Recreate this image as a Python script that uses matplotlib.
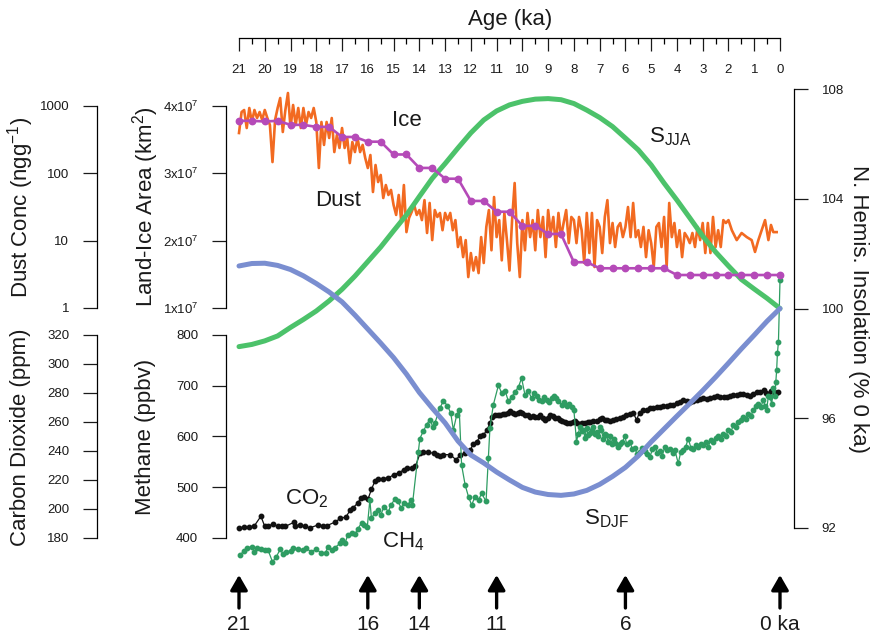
import numpy as np
import matplotlib
matplotlib.use('Agg')
import matplotlib.pyplot as plt
from matplotlib import rcParams, transforms
from matplotlib.ticker import NullLocator, FixedLocator

rcParams['font.family'] = 'sans-serif'
rcParams['font.sans-serif'] = ['Liberation Sans', 'DejaVu Sans']
rcParams['mathtext.fontset'] = 'custom'
rcParams['mathtext.rm'] = 'Liberation Sans'
rcParams['mathtext.it'] = 'Liberation Sans:italic'
rcParams['mathtext.bf'] = 'Liberation Sans:bold'
rcParams['axes.linewidth'] = 0.9
rcParams['text.color'] = '#1a1a1a'

# ---- data ----
# insolation, % of 0 ka, at 0.5 ka steps
ins_age = [21, 20.5, 20, 19.5, 19, 18.5, 18, 17.5, 17, 16.5, 16, 15.5, 15, 14.5, 14, 13.5,
           13, 12.5, 12, 11.5, 11, 10.5, 10, 9.5, 9, 8.5, 8, 7.5, 7, 6.5, 6, 5.5, 5, 4.5,
           4, 3.5, 3, 2.5, 2, 1.5, 1, 0.5, 0]
s_jja = [98.61, 98.69, 98.82, 99.00, 99.31, 99.60, 99.91, 100.28, 100.70, 101.18, 101.71,
         102.24, 102.83, 103.41, 104.08, 104.74, 105.28, 105.85, 106.40, 106.87, 107.20,
         107.42, 107.55, 107.63, 107.65, 107.61, 107.47, 107.23, 106.96, 106.63, 106.21,
         105.78, 105.23, 104.57, 103.95, 103.30, 102.64, 102.06, 101.55, 101.06, 100.71,
         100.37, 100.0]
s_djf = [101.55, 101.64, 101.65, 101.57, 101.42, 101.19, 100.91, 100.60, 100.24, 99.76, 99.25,
         98.74, 98.21, 97.61, 96.94, 96.37, 95.83, 95.17, 94.66, 94.37, 94.04, 93.75, 93.48,
         93.31, 93.22, 93.19, 93.24, 93.37, 93.59, 93.88, 94.21, 94.63, 95.14, 95.61, 96.08,
         96.54, 97.01, 97.50, 98.01, 98.53, 99.03, 99.54, 100.0]

# land-ice area (x 10^7 km2), 0.5 ka steps
ice_age = ins_age
ice_area = [3.78, 3.78, 3.77, 3.78, 3.72, 3.72, 3.69, 3.69, 3.54, 3.54, 3.47, 3.47, 3.28, 3.28,
            3.08, 3.08, 2.92, 2.92, 2.59, 2.59, 2.43, 2.43, 2.22, 2.22, 2.10, 2.10, 1.68, 1.68,
            1.59, 1.59, 1.59, 1.59, 1.59, 1.59, 1.49, 1.49, 1.49, 1.49, 1.49, 1.49, 1.49, 1.49, 1.49]

# dust concentration (ng/g), 0.1 ka steps from 21.0 to 2.0, then irregular tail
dust_main = [
    397, 814, 872, 471, 934, 579, 872, 663, 814, 620,
    872, 663, 522, 147, 620, 934, 1315, 411, 872, 1560,
    471, 1035, 522, 934, 471, 934, 522, 814, 663, 934,
    579, 120, 579, 264, 579, 335, 663, 207, 371, 238,
    471, 238, 335, 142, 292, 207, 335, 207, 264, 169,
    120, 187, 52.8, 133, 74.3, 94.5, 43, 67, 47.7, 56.7,
    33.9, 24.1, 47.7, 18.9, 67, 13.4, 21.7, 26.6, 33.9, 24.1,
    28.5, 20.2, 40, 13.0, 36.3, 10.2, 28.5, 22.5, 25.8, 14.3,
    25.8, 20.2, 25.8, 14.3, 20.2, 8.05, 11.3, 5.7, 10.2, 2.88,
    6.55, 3.6, 5.7, 3.3, 11.3, 4.66, 16.0, 28.5, 7.2, 44.5,
    11.3, 20.2, 5.1, 25.8, 10.2, 3.6, 20.2, 71.8, 9.2, 2.88,
    20.2, 7.2, 25.8, 11.3, 20.2, 7.2, 28.5, 11.3, 22.5, 5.7,
    28.5, 13.0, 22.5, 8.05, 25.8, 11.3, 18.3, 28.5, 9.2, 22.5,
    20.2, 9.2, 22.5, 14.3, 4.66, 25.8, 6.55, 25.8, 4.06, 20.2,
    16.0, 6.55, 22.5, 40, 9.2, 18.3, 8.05, 16.0, 18.3, 11.3,
    16.0, 31.6, 11.3, 36.3, 11.3, 14.3, 8.05, 16.0, 5.7, 14.3,
    9.2, 4.06, 16.0, 18.3, 8.05, 22.5, 4.06, 36.3, 11.3, 18.3,
    8.05, 14.3, 5.7, 13.0, 11.3, 9.2, 13.0, 8.05, 16.0, 10.2,
    18.3, 6.55, 18.3, 6.55, 22.5, 8.05, 14.3, 8.05, 20.2, 18.3,
    20.2]
dust_age_tail = [1.87, 1.68, 1.49, 1.29, 1.10, 0.97, 0.84, 0.71, 0.58, 0.45, 0.35, 0.26, 0.13]
dust_tail = [14.3, 10.2, 13.0, 11.3, 10.2, 6.8, 10.2, 14.3, 20.2, 10.2, 17.1, 13.4, 13.4]

# carbon dioxide (ppm)
co2_age = [21.0, 20.8, 20.6, 20.4, 20.15, 20.0, 19.87, 19.67, 19.5, 19.35, 19.2, 18.85, 18.83,
           18.64, 18.45, 18.25, 17.93, 17.75, 17.59, 17.27, 17.07, 16.85, 16.69, 16.56, 16.4,
           16.27, 16.14, 15.99, 15.86, 15.73, 15.6, 15.4, 15.2, 15.0, 14.8, 14.6, 14.47, 14.28,
           14.15, 13.97, 13.84, 13.65, 13.45, 13.33, 13.2, 13.07, 12.8, 12.58, 12.42, 12.22,
           12.03, 11.9, 11.77, 11.64, 11.51, 11.38, 11.26, 11.19, 11.06, 10.95, 10.87, 10.75,
           10.67, 10.55, 10.48, 10.38, 10.28, 10.18, 10.09, 10.0, 9.9, 9.8, 9.7, 9.6, 9.5, 9.4,
           9.3, 9.2, 9.12, 9.02, 8.93, 8.83, 8.73, 8.63, 8.54, 8.45, 8.35, 8.25, 8.15, 8.05,
           7.96, 7.87, 7.77, 7.67, 7.57, 7.47, 7.38, 7.25, 7.12, 7.0, 6.9, 6.8, 6.73, 6.6,
           6.47, 6.35, 6.21, 6.08, 5.96, 5.83, 5.7, 5.57, 5.45, 5.31, 5.18, 5.05, 4.92, 4.79,
           4.66, 4.53, 4.4, 4.27, 4.14, 4.01, 3.88, 3.75, 3.62, 3.49, 3.36, 3.23, 3.1, 2.97,
           2.84, 2.71, 2.58, 2.45, 2.32, 2.19, 2.06, 1.94, 1.81, 1.68, 1.55, 1.42, 1.29, 1.16,
           1.03, 0.9, 0.77, 0.64, 0.55, 0.45, 0.35, 0.25, 0.15, 0.06]
co2_ppm = [187, 187.5, 187.5, 188.5, 195, 188, 188.5, 189.5, 188, 188, 188, 191, 188.5,
           189, 188, 187, 189, 188.5, 188.5, 191, 193.5, 194.5, 199, 201, 204,
           207.5, 208, 207, 213.5, 219, 220.5, 221, 221.5, 223.5, 225, 227, 228, 228,
           229.5, 238.5, 239, 239, 238.5, 237, 236.5, 237.5, 237.5, 234, 237, 238.5,
           240.5, 245, 246.5, 250, 251, 254.5, 259, 263.5, 265, 264.5, 265, 265.5,
           265.5, 266, 267.5, 266.5, 265.5, 266.5, 267, 266, 265, 264.5, 263.5, 264, 263.5, 263.5,
           264.5, 263, 261.5, 263, 265, 264, 263, 262.5, 261.5, 261, 260, 259.5, 259, 260,
           261, 259.5, 258.5, 259.5, 259.5, 260, 260, 260.5, 260.5, 262, 263, 261.5, 261.5, 261,
           261.5, 262, 262.5, 263.5, 265, 265.5, 266.5, 261.5, 266.5, 268, 268.5, 269.5, 269.5, 270,
           270.5, 271, 271, 271.5, 272, 273, 274, 275, 274.5, 274, 274.5, 275, 276, 276.5,
           276, 276.5, 277.5, 278, 277.5, 277, 277.5, 278, 278.5, 278.5, 279, 279.5, 278.5, 278,
           279.5, 281, 280.5, 282, 280, 279, 281.5, 281, 280, 280.5]

# methane (ppbv)
ch4_age = [20.95, 20.8, 20.7, 20.5, 20.4, 20.3, 20.15, 20.0, 19.87, 19.7, 19.55, 19.4, 19.3,
           19.17, 19.0, 18.9, 18.7, 18.5, 18.4, 18.2, 18.0, 17.8, 17.64, 17.54, 17.4, 17.27,
           17.07, 17.0, 16.88, 16.78, 16.62, 16.49, 16.4, 16.24, 16.14, 16.02, 15.92, 15.86,
           15.73, 15.6, 15.5, 15.37, 15.2, 15.1, 14.96, 14.83, 14.7, 14.6, 14.45, 14.32, 14.27,
           14.04, 13.98, 13.85, 13.72, 13.6, 13.46, 13.4, 13.2, 13.07, 12.91, 12.78, 12.68,
           12.55, 12.45, 12.36, 12.22, 12.09, 11.97, 11.84, 11.7, 11.58, 11.41, 11.32, 11.26,
           11.13, 10.93, 10.8, 10.67, 10.54, 10.42, 10.28, 10.15, 10.03, 9.9, 9.77, 9.64, 9.55,
           9.45, 9.35, 9.25, 9.15, 9.06, 8.96, 8.86, 8.78, 8.7, 8.6, 8.48, 8.38, 8.28, 8.18,
           8.09, 8.0, 7.9, 7.83, 7.77, 7.7, 7.64, 7.57, 7.51, 7.45, 7.38, 7.3, 7.25, 7.18, 7.12,
           7.05, 6.99, 6.93, 6.86, 6.8, 6.74, 6.67, 6.6, 6.52, 6.45, 6.4, 6.3, 6.21, 6.12, 6.02,
           5.95, 5.83, 5.73, 5.63, 5.55, 5.44, 5.35, 5.25, 5.15, 5.05, 4.95, 4.86, 4.76, 4.66,
           4.57, 4.47, 4.37, 4.27, 4.17, 4.08, 3.95, 3.85, 3.75, 3.66, 3.56, 3.46, 3.36, 3.26,
           3.17, 3.07, 2.98, 2.88, 2.78, 2.69, 2.59, 2.5, 2.4, 2.3, 2.2, 2.1, 2.01, 1.91, 1.81,
           1.72, 1.62, 1.52, 1.42, 1.32, 1.23, 1.13, 1.04, 0.94, 0.84, 0.74, 0.65, 0.58, 0.52,
           0.45, 0.39, 0.32, 0.26, 0.2, 0.16, 0.13, 0.1, 0.06, 0.0]
ch4_ppb = [367, 375, 380, 383, 373, 380, 378, 377, 376, 353, 363, 378, 369,
           372, 375, 380, 378, 377, 380, 373, 378, 370, 371, 383, 376, 381,
           390, 396, 390, 406, 409, 408, 417, 430, 425, 422, 475, 439,
           449, 455, 445, 462, 452, 465, 476, 472, 459, 468, 465, 475, 465,
           570, 596, 610, 623, 633, 618, 626, 656, 670, 661, 646, 613,
           642, 652, 544, 504, 481, 465, 481, 475, 488, 472, 557, 616,
           662, 701, 685, 690, 669, 678, 688, 698, 715, 682, 690, 675, 685,
           680, 672, 669, 678, 671, 668, 675, 680, 675, 670, 662, 668, 660, 664,
           659, 652, 590, 605, 619, 610, 613, 598, 617, 603, 606, 612, 618, 605, 609,
           600, 619, 612, 596, 605, 603, 590, 600, 585, 595, 587, 579, 585, 590, 600,
           585, 590, 575, 577, 565, 570, 578, 572, 566, 560, 575, 580, 568, 572,
           562, 580, 574, 576, 568, 573, 547, 570, 573, 580, 596, 578, 576, 584,
           580, 585, 583, 590, 580, 594, 590, 598, 600, 596, 605, 600, 613, 608, 623,
           618, 628, 632, 639, 635, 645, 640, 652, 660, 665, 658, 672, 660, 652,
           680, 678, 664, 695, 680, 708, 731, 764, 787, 908]

arrow_age = [21, 16, 14, 11, 6, 0]
arrow_lab = ['21', '16', '14', '11', '6', '0 ka']

# ---- colours ----
c_dust = '#F26A21'
c_ice = '#B54AB8'
c_jja = '#4CC26A'
c_djf = '#7A8ED0'
c_ch4 = '#2E9C62'
c_co2 = '#111111'

W, H = 874, 635
X0, X1 = 239, 780


def rect(y0, y1):
    return [X0 / W, 1 - y1 / H, (X1 - X0) / W, (y1 - y0) / H]


def ax_frac(xpx):
    return (xpx - X0) / (X1 - X0)


def bare(ax):
    ax.patch.set_visible(False)
    for s in ax.spines.values():
        s.set_visible(False)
    ax.set_xticks([])
    ax.set_xlim(21, 0)


def yaxis_at(ax, xpx, side='left'):
    ax.spines[side].set_visible(True)
    ax.spines[side].set_position(('axes', ax_frac(xpx)))
    ax.spines[side].set_linewidth(0.9)
    ax.yaxis.set_ticks_position(side)
    ax.tick_params(axis='y', which='major', direction='out', length=10, width=0.9,
                   pad=10, labelsize=9.5, colors='#1a1a1a')
    ax.yaxis.set_minor_locator(NullLocator())


fig = plt.figure(figsize=(W / 100, H / 100), dpi=100)

# carbon dioxide
ax_co2 = fig.add_axes(rect(335, 538))
bare(ax_co2)
ax_co2.set_ylim(180, 320)
yaxis_at(ax_co2, 97)
ax_co2.set_yticks(np.arange(180, 321, 20))
ax_co2.plot(co2_age, co2_ppm, color=c_co2, lw=0.9, marker='o', ms=3.2,
            mec=c_co2, mfc=c_co2, clip_on=False)

# methane
ax_ch4 = fig.add_axes(rect(335, 538))
bare(ax_ch4)
ax_ch4.set_ylim(400, 800)
yaxis_at(ax_ch4, 226)
ax_ch4.set_yticks([400, 500, 600, 700, 800])
ax_ch4.plot(ch4_age, ch4_ppb, color=c_ch4, lw=0.9, marker='o', ms=3.2,
            mec=c_ch4, mfc=c_ch4, clip_on=False)

# dust
ax_dust = fig.add_axes(rect(106, 308))
bare(ax_dust)
ax_dust.set_yscale('log')
ax_dust.set_ylim(1, 1000)
yaxis_at(ax_dust, 97)
ax_dust.yaxis.set_major_locator(FixedLocator([1, 10, 100, 1000]))
ax_dust.set_yticklabels(['1', '10', '100', '1000'])
ax_dust.yaxis.set_minor_locator(NullLocator())
dust_age = np.concatenate([np.round(np.arange(21.0, 1.95, -0.1), 2), dust_age_tail])
dust_val = np.concatenate([dust_main, dust_tail])
ax_dust.plot(dust_age, dust_val, color=c_dust, lw=1.9, clip_on=False)
ax_dust.set_xlim(21, 0)

# insolation
ax_ins = fig.add_axes(rect(89, 528))
bare(ax_ins)
ax_ins.set_ylim(92, 108)
yaxis_at(ax_ins, 794, side='right')
ax_ins.set_yticks([92, 96, 100, 104, 108])
ax_ins.plot(ins_age, s_jja, color=c_jja, lw=3.6, solid_joinstyle='round',
            solid_capstyle='round', clip_on=False)
ax_ins.plot(ins_age, s_djf, color=c_djf, lw=3.6, solid_joinstyle='round',
            solid_capstyle='round', clip_on=False)

# land ice
ax_ice = fig.add_axes(rect(106, 308))
bare(ax_ice)
ax_ice.set_ylim(1, 4)
yaxis_at(ax_ice, 226)
ax_ice.set_yticks([1, 2, 3, 4])
ax_ice.set_yticklabels([r'1x10$^7$', r'2x10$^7$', r'3x10$^7$', r'4x10$^7$'])
ax_ice.plot(ice_age, ice_area, color=c_ice, lw=1.9, marker='o', ms=4.6,
            mec=c_ice, mfc=c_ice, clip_on=False)

# age axis on top
ax_age = fig.add_axes([X0 / W, 1 - 38 / H, (X1 - X0) / W, 0.02])
ax_age.patch.set_visible(False)
for k in ['top', 'left', 'right']:
    ax_age.spines[k].set_visible(False)
ax_age.spines['bottom'].set_linewidth(0.9)
ax_age.set_yticks([])
ax_age.set_xlim(21, 0)
ax_age.set_xticks(np.arange(0, 22, 1))
ax_age.set_xticks(np.arange(0.5, 21, 1), minor=True)
ax_age.tick_params(axis='x', which='major', direction='out', length=9.4, width=0.9,
                   pad=9.5, labelsize=9.5, colors='#1a1a1a')
ax_age.tick_params(axis='x', which='minor', direction='out', length=4.3, width=0.9)

# axis titles
def ftext(x, y, s, **kw):
    fig.text(x / W, 1 - y / H, s, ha='center', va='center', **kw)

ftext(510, 19, 'Age (ka)', fontsize=16)
ftext(21, 207, r'Dust Conc (ngg$^{-1}$)', fontsize=16, rotation=90)
ftext(146, 207, r'Land-Ice Area (km$^2$)', fontsize=16, rotation=90)
ftext(21, 437, 'Carbon Dioxide (ppm)', fontsize=16, rotation=90)
ftext(146, 437, 'Methane (ppbv)', fontsize=16, rotation=90)
ftext(858, 309, 'N. Hemis. Insolation (% 0 ka)', fontsize=16, rotation=270)

# series labels
ftext(407, 120, 'Ice', fontsize=16)
ftext(338, 201, 'Dust', fontsize=16)
ftext(670, 137, r'S$_{\rm JJA}$', fontsize=16)
ftext(606, 519, r'S$_{\rm DJF}$', fontsize=16)
ftext(307, 499, r'CO$_2$', fontsize=16)
ftext(403, 542, r'CH$_4$', fontsize=16)

# event arrows
trans = transforms.blended_transform_factory(ax_age.transData, fig.transFigure)
for a, lab in zip(arrow_age, arrow_lab):
    ax_age.annotate('', xy=(a, 1 - 575 / H), xytext=(a, 1 - 608 / H),
                    xycoords=trans, textcoords=trans, annotation_clip=False,
                    arrowprops=dict(arrowstyle='-|>,head_length=0.45,head_width=0.26',
                                    lw=2.4, color='black', shrinkA=0, shrinkB=0,
                                    mutation_scale=20))
    ax_age.text(a, 1 - 625 / H, lab, transform=trans, ha='center', va='center',
                fontsize=15)

fig.savefig('out.png', dpi=100)
